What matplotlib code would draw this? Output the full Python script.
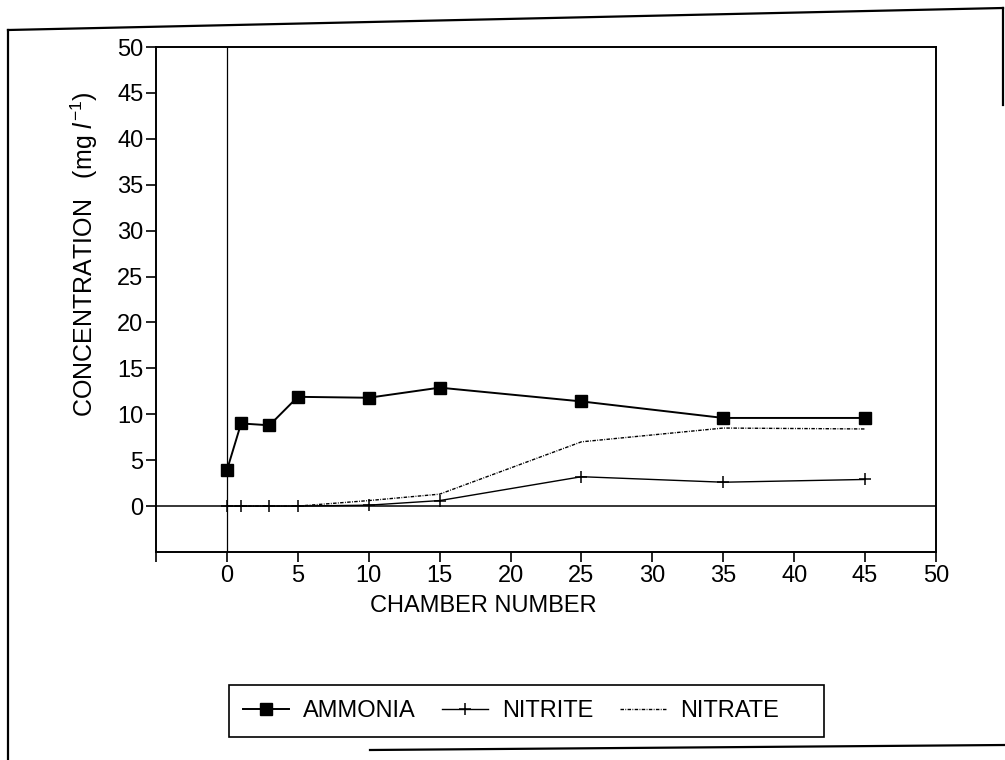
import matplotlib
matplotlib.use("Agg")
import matplotlib.pyplot as plt
from matplotlib.lines import Line2D
from matplotlib.patches import Rectangle

plt.rcParams["font.family"] = ["Liberation Sans", "DejaVu Sans"]
plt.rcParams["mathtext.fontset"] = "custom"
plt.rcParams["mathtext.rm"] = "Liberation Sans"
plt.rcParams["mathtext.it"] = "Liberation Sans:italic"

# concentrations along the chamber series (mg per litre)
chamber = [0, 1, 3, 5, 10, 15, 25, 35, 45]
ammonia = [3.9, 9.0, 8.8, 11.9, 11.8, 12.9, 11.4, 9.6, 9.6]
nitrite = [0.0, 0.0, 0.0, 0.0, 0.1, 0.6, 3.2, 2.6, 2.9]
nitrate = [0.0, 0.0, 0.0, 0.0, 0.6, 1.3, 7.0, 8.5, 8.4]

xticks = [-5, 0, 5, 10, 15, 20, 25, 30, 35, 40, 45, 50]
xticklabels = ["", "0", "5", "10", "15", "20", "25", "30", "35", "40", "45", "50"]
yticks = [0, 5, 10, 15, 20, 25, 30, 35, 40, 45, 50]

W, H = 1005, 760
fig = plt.figure(figsize=(W / 100, H / 100), dpi=100)
ax = fig.add_axes([156 / W, 1 - 552 / H, 780 / W, 505 / H])

ax.axhline(0, color="black", lw=1.1, zorder=1)
ax.axvline(0, color="black", lw=0.9, zorder=1)

ax.plot(chamber, nitrate, color="black", lw=1.0, ls=(0, (2.5, 1, 0.6, 1)),
        label="NITRATE", zorder=2)
ax.plot(chamber, nitrite, color="black", lw=1.0, marker="+", ms=9, mew=1.1,
        label="NITRITE", zorder=3)
ax.plot(chamber, ammonia, color="black", lw=1.4, marker="s", ms=9,
        mfc="black", mec="black", label="AMMONIA", zorder=4)

ax.set_xlim(-5, 50)
ax.set_ylim(-5, 50)
ax.set_xticks(xticks)
ax.set_xticklabels(xticklabels)
ax.set_yticks(yticks)
ax.tick_params(direction="out", length=7, width=1.2, pad=2, labelsize=17)
for s in ax.spines.values():
    s.set_linewidth(1.4)

ax.set_xlabel("CHAMBER NUMBER", fontsize=17)
ax.xaxis.set_label_coords(0.419, -0.086)
ax.set_ylabel(r"CONCENTRATION   (mg $\mathit{l}^{-1}$)", fontsize=18)
ax.yaxis.set_label_coords(-0.072, 0.59)

# legend entries, with a hand-placed box around them
h, l = ax.get_legend_handles_labels()
order = [2, 1, 0]
leg = fig.legend([h[i] for i in order], [l[i] for i in order],
                 loc="center left", bbox_to_anchor=(229 / W, 1 - 711 / H),
                 ncol=3, fontsize=17, frameon=False, handlelength=1.95,
                 handletextpad=0.6, columnspacing=1.1, borderpad=0.6,
                 borderaxespad=0)
fig.add_artist(Rectangle((229 / W, 1 - 737 / H), 595 / W, 52 / H,
                         transform=fig.transFigure, fill=False,
                         edgecolor="black", lw=1.2))

# outer border of the figure panel
def fig_line(x0, y0, x1, y1, lw=1.6):
    fig.add_artist(Line2D([x0 / W, x1 / W], [1 - y0 / H, 1 - y1 / H],
                          color="black", lw=lw, transform=fig.transFigure))

fig_line(8, 30, 1003, 8)
fig_line(8, 30, 8, 760)
fig_line(1003, 8, 1003, 105)
fig_line(370, 750, 1005, 745)

fig.savefig("out.png", dpi=100)
